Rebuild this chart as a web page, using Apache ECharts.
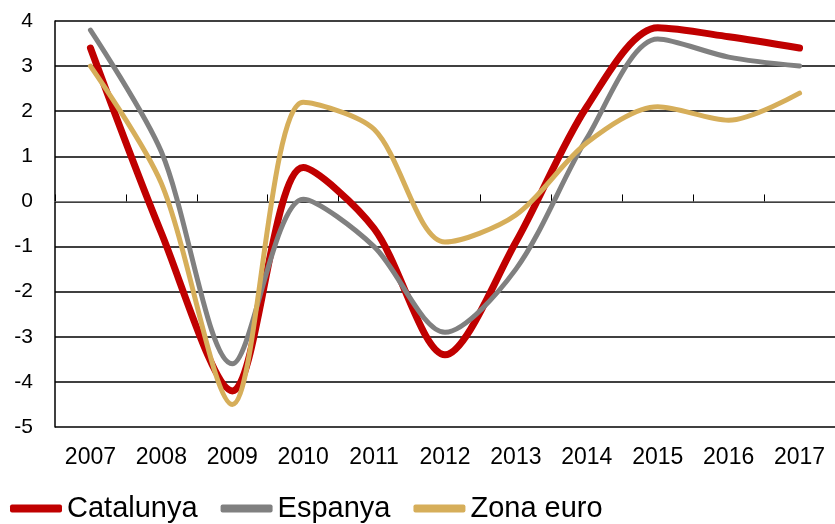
<!DOCTYPE html>
<html>
<head>
<meta charset="utf-8">
<script src="https://cdn.jsdelivr.net/npm/echarts@6/dist/echarts.min.js"></script>
<style>
  html, body { margin: 0; padding: 0; background: #fff; }
  #chart { width: 835px; height: 524px; }
</style>
</head>
<body>
<div id="chart"></div>
<script>
const years = ['2007', '2008', '2009', '2010', '2011', '2012', '2013', '2014', '2015', '2016', '2017']
const catalunya = [3.4, -0.7, -4.2, 0.75, -0.6, -3.4, -0.9, 2.1, 3.85, 3.65, 3.4]
const espanya = [3.8, 1.1, -3.6, 0.05, -1.0, -2.9, -1.5, 1.4, 3.6, 3.2, 3.0]
const zonaEuro = [3.0, 0.4, -4.5, 2.2, 1.6, -0.9, -0.3, 1.3, 2.1, 1.8, 2.4]

const font = 'Arial, "Liberation Sans", sans-serif'

const chart = echarts.init(document.getElementById('chart'))

function line(name, data, color, width) {
  return {
    name: name,
    type: 'line',
    data: data,
    smooth: 0.3,
    symbol: 'none',
    lineStyle: { color: color, width: width, cap: 'round', join: 'round' },
    itemStyle: { color: color },
    animation: false
  }
}

chart.setOption({
  backgroundColor: '#fff',
  textStyle: { fontFamily: font },
  grid: { left: 55, top: 21, width: 784, height: 406, containLabel: false },
  legend: {
    left: 10,
    top: 494,
    padding: 0,
    icon: 'roundRect',
    itemWidth: 52,
    itemHeight: 8,
    itemGap: 23,
    textStyle: { fontFamily: font, fontSize: 29, color: '#000' },
    data: ['Catalunya', 'Espanya', 'Zona euro']
  },
  xAxis: [{
    type: 'category',
    data: years,
    position: 'bottom',
    axisLine: { show: false, onZero: false },
    axisTick: { show: false },
    axisLabel: { fontSize: 23, color: '#000', margin: 19, fontFamily: font, interval: 0 }
  }, {
    type: 'category',
    data: years,
    position: 'top',
    axisLine: { show: true, onZero: true, lineStyle: { color: '#808080', width: 1 } },
    axisTick: { show: true, length: 7, lineStyle: { color: '#000', width: 1 } },
    axisLabel: { show: false }
  }],
  yAxis: {
    type: 'value',
    min: -5,
    max: 4,
    interval: 1,
    axisLine: { show: true, lineStyle: { color: '#000', width: 1.5 } },
    axisTick: { show: false },
    axisLabel: { fontSize: 21, color: '#000', margin: 22, fontFamily: font },
    splitLine: { lineStyle: { color: '#000', width: 1.5 } }
  },
  series: [
    line('Catalunya', catalunya, '#C00000', 7),
    line('Espanya', espanya, '#808080', 5),
    line('Zona euro', zonaEuro, '#D6AE5A', 5)
  ]
})
</script>
</body>
</html>
